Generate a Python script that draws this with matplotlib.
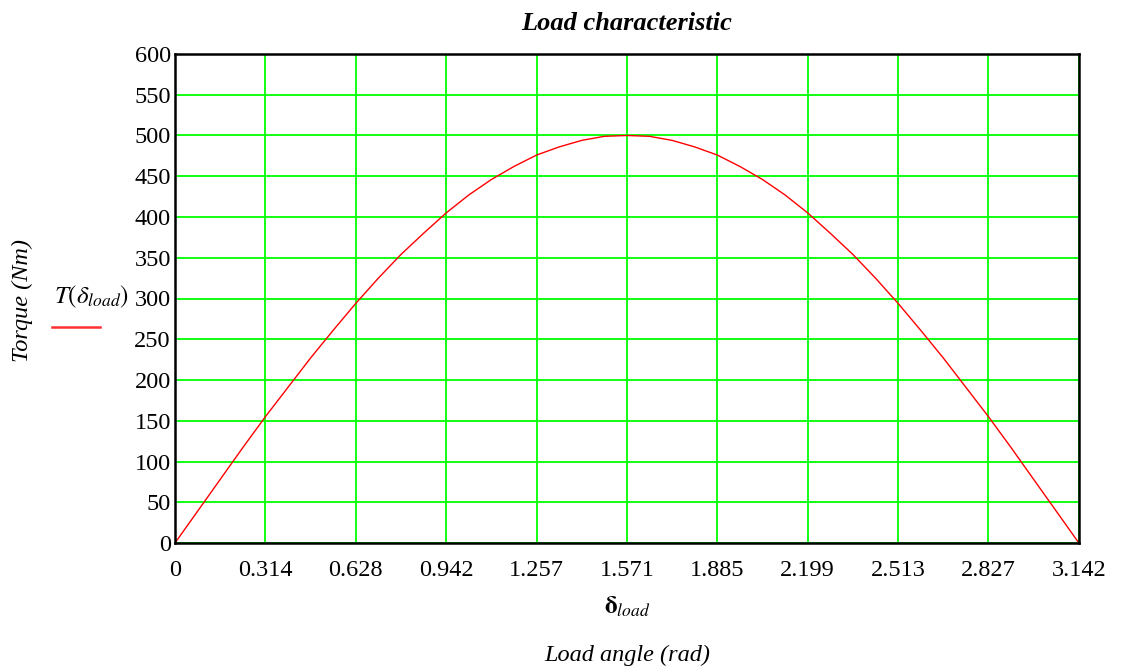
import matplotlib
matplotlib.use("Agg")
import matplotlib.pyplot as plt
from matplotlib.lines import Line2D

plt.rcParams["mathtext.fontset"] = "stix"

# Load angle (rad) and torque (Nm) samples of the load characteristic
load_angle = [0.0, 0.0785, 0.1571, 0.2356, 0.3142, 0.3927, 0.4712, 0.5498,
              0.6283, 0.7069, 0.7854, 0.8639, 0.9425, 1.0210, 1.0996, 1.1781,
              1.2566, 1.3352, 1.4137, 1.4923, 1.5708, 1.6493, 1.7279, 1.8064,
              1.8850, 1.9635, 2.0420, 2.1206, 2.1991, 2.2777, 2.3562, 2.4347,
              2.5133, 2.5918, 2.6704, 2.7489, 2.8274, 2.9060, 2.9845, 3.0631,
              3.1416]
torque = [0, 39, 78, 117, 155, 191, 227, 261,
          294, 325, 354, 380, 405, 427, 446, 462,
          476, 486, 494, 499, 500, 499, 494, 486,
          476, 462, 446, 427, 405, 380, 354, 325,
          294, 261, 227, 191, 155, 117, 78, 39,
          0]

x_ticks = [0, 0.314, 0.628, 0.942, 1.257, 1.571, 1.885, 2.199, 2.513, 2.827, 3.142]
x_tick_labels = ["0", "0.314", "0.628", "0.942", "1.257", "1.571",
                 "1.885", "2.199", "2.513", "2.827", "3.142"]
y_ticks = list(range(0, 601, 50))

serif = ["Liberation Serif", "DejaVu Serif"]

fig = plt.figure(figsize=(11.3, 6.7), dpi=100)
fig.patch.set_facecolor("white")
ax = fig.add_axes([175 / 1130, 1 - 543 / 670, (1079 - 175) / 1130, (543 - 54) / 670])

ax.plot(load_angle, torque, color="#ff0000", linewidth=1.0, zorder=3)

ax.set_xlim(0, 3.1416)
ax.set_ylim(0, 600)
ax.set_xticks(x_ticks)
ax.set_xticklabels(x_tick_labels)
ax.set_yticks(y_ticks)
ax.grid(True, color="#00ff00", linewidth=1.3, zorder=1)
ax.set_axisbelow(True)
for s in ax.spines.values():
    s.set_linewidth(1.8)
    s.set_color("black")
    s.set_zorder(4)
ax.tick_params(length=0, labelsize=17.5)
ax.tick_params(axis="x", pad=12)
ax.tick_params(axis="y", pad=3)
for lab in ax.get_xticklabels() + ax.get_yticklabels():
    lab.set_fontfamily(serif)

fig.text(627 / 1130, 1 - 23 / 670, "Load characteristic", ha="center", va="center",
         fontsize=19, fontstyle="italic", fontweight="bold", family=serif)
fig.text(22 / 1130, 1 - 300 / 670, "Torque (Nm)", ha="center", va="center",
         rotation=90, fontsize=17.5, fontstyle="italic", family=serif)
fig.text(627 / 1130, 1 - 655 / 670, "Load angle (rad)", ha="center", va="center",
         fontsize=17.5, fontstyle="italic", family=serif)
fig.text(627 / 1130, 1 - 607 / 670, r"$\mathbf{\delta}_{load}$", ha="center",
         va="center", fontsize=18)

# Trace legend at the left of the plot
fig.text(92 / 1130, 1 - 297 / 670, r"$T\left(\delta_{load}\right)$", ha="center",
         va="center", fontsize=18)
fig.add_artist(Line2D([52 / 1130, 100 / 1130], [1 - 327 / 670, 1 - 327 / 670],
                      color="#ff3030", linewidth=1.8))

fig.savefig("out.png", dpi=100, facecolor="white")
